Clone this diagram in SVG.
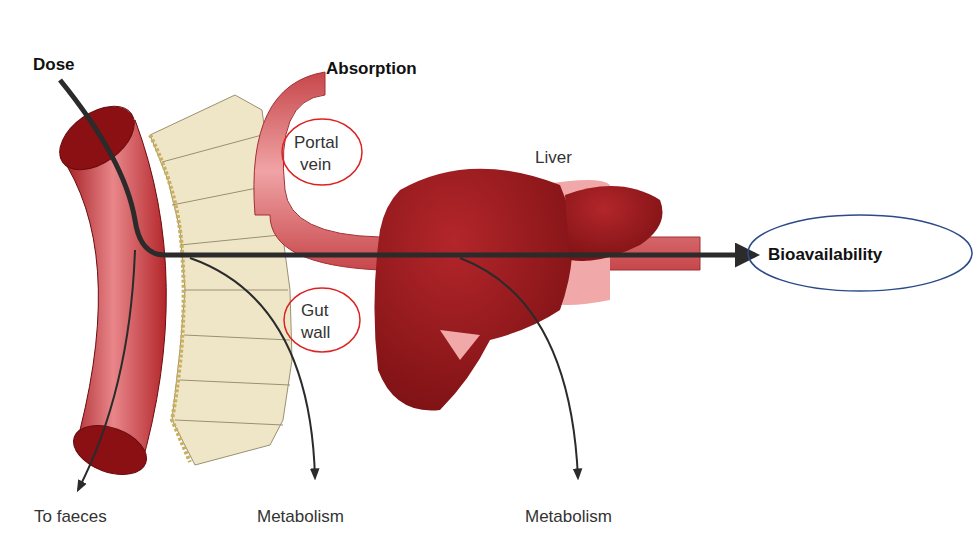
<svg xmlns="http://www.w3.org/2000/svg" width="977" height="549" viewBox="0 0 977 549">
<defs>
<linearGradient id="tube" x1="0" x2="1" y1="0" y2="0"><stop offset="0" stop-color="#9e1418"/><stop offset="0.5" stop-color="#e8868a"/><stop offset="1" stop-color="#b3262a"/></linearGradient>
<linearGradient id="vein" x1="0" x2="0" y1="0" y2="1"><stop offset="0" stop-color="#c7474b"/><stop offset="0.5" stop-color="#f0a3a5"/><stop offset="1" stop-color="#c7474b"/></linearGradient>
<radialGradient id="liver" cx="0.4" cy="0.3" r="0.8"><stop offset="0" stop-color="#b3262a"/><stop offset="1" stop-color="#7a1013"/></radialGradient>
<marker id="big" viewBox="0 0 10 10" refX="8" refY="5" markerWidth="5" markerHeight="5" orient="auto"><path d="M0,0 L10,5 L0,10 z" fill="#2b2b2b"/></marker>
<marker id="small" viewBox="0 0 10 10" refX="8" refY="5" markerWidth="6" markerHeight="6" orient="auto"><path d="M0,1 L10,5 L0,9 z" fill="#2b2b2b"/></marker>
<style>
.lbl{font-family:"Liberation Sans",Arial,sans-serif;font-size:17px;fill:#333}
.b{font-weight:bold;fill:#111}
.cell{fill:#efe6c8;stroke:#9a9070;stroke-width:1}
.thin{fill:none;stroke:#2b2b2b;stroke-width:2}
</style>
</defs>
<rect width="977" height="549" fill="#fff"/>
<g id="gut-wall">
<path class="cell" d="M150,135 L235,95 L262,110 L270,170 L280,215 L290,290 L292,360 L283,420 L270,445 L195,465 L172,420 L180,350 L185,290 L180,230 L168,180 Z"/>
<path fill="none" stroke="#9a9070" d="M162,162 L262,135 M172,205 L272,185 M180,245 L280,235 M184,290 L288,290 M184,335 L290,340 M180,380 L290,385 M175,420 L283,425"/>
<path fill="none" stroke="#c8b060" stroke-width="4" stroke-dasharray="3,2" d="M150,135 Q178,190 182,250 Q188,330 172,420 L190,462"/>
</g>
<g id="gut">
<path fill="url(#tube)" stroke="#6a0c0e" d="M60,155 Q125,250 80,430 L140,470 Q195,280 135,120 Z"/>
<ellipse cx="97" cy="138" rx="42" ry="25" transform="rotate(-35 97 138)" fill="#8a1014" stroke="#6a0c0e"/>
<ellipse cx="110" cy="450" rx="38" ry="22" transform="rotate(20 110 450)" fill="#8a1014" stroke="#6a0c0e"/>
</g>
<g id="portal-vein">
<path fill="url(#vein)" stroke="#a03035" d="M255,215 Q245,85 325,72 L325,95 Q275,100 285,190 Q290,235 380,237 L700,237 L700,270 L380,270 Q270,265 270,215 Z"/>
</g>
<g id="liver">
<path fill="#f0a8a8" d="M540,185 Q600,175 610,185 L610,300 Q560,310 540,300 Z"/>
<path fill="url(#liver)" d="M400,190 Q470,150 560,185 Q585,240 560,310 Q530,330 490,340 Q470,380 440,410 Q395,415 378,370 Q370,300 380,230 Q385,205 400,190 Z"/>
<path fill="url(#liver)" d="M565,195 Q620,175 660,200 Q670,225 640,245 Q600,265 570,260 Z"/>
<path fill="#f0a8a8" d="M440,330 L480,335 L460,360 Z"/>
</g>
<g id="connectors">
<path d="M60,80 Q125,160 135,220 Q140,255 165,255 L755,255" fill="none" stroke="#2b2b2b" stroke-width="5" marker-end="url(#big)"/>
<path class="thin" d="M135,250 Q130,390 78,490" marker-end="url(#small)"/>
<path class="thin" d="M190,258 Q310,300 315,478" marker-end="url(#small)"/>
<path class="thin" d="M460,258 Q570,300 578,478" marker-end="url(#small)"/>
</g>
<g id="labels">
<text class="lbl b" x="33" y="70">Dose</text>
<text class="lbl b" x="326" y="74">Absorption</text>
<text class="lbl" x="535" y="163">Liver</text>
<text class="lbl" x="294" y="148">Portal</text>
<text class="lbl" x="300" y="170">vein</text>
<text class="lbl" x="301" y="316">Gut</text>
<text class="lbl" x="301" y="338">wall</text>
<text class="lbl b" x="768" y="260">Bioavailability</text>
<text class="lbl" x="34" y="522">To faeces</text>
<text class="lbl" x="257" y="522">Metabolism</text>
<text class="lbl" x="525" y="522">Metabolism</text>
</g>
<g id="highlights" fill="none">
<ellipse cx="322" cy="152" rx="40" ry="33" stroke="#d22" stroke-width="1.5"/>
<ellipse cx="322" cy="320" rx="38" ry="32" stroke="#d22" stroke-width="1.5"/>
<ellipse cx="860" cy="253" rx="112" ry="38" stroke="#2c4a8a" stroke-width="1.5"/>
</g>
</svg>
